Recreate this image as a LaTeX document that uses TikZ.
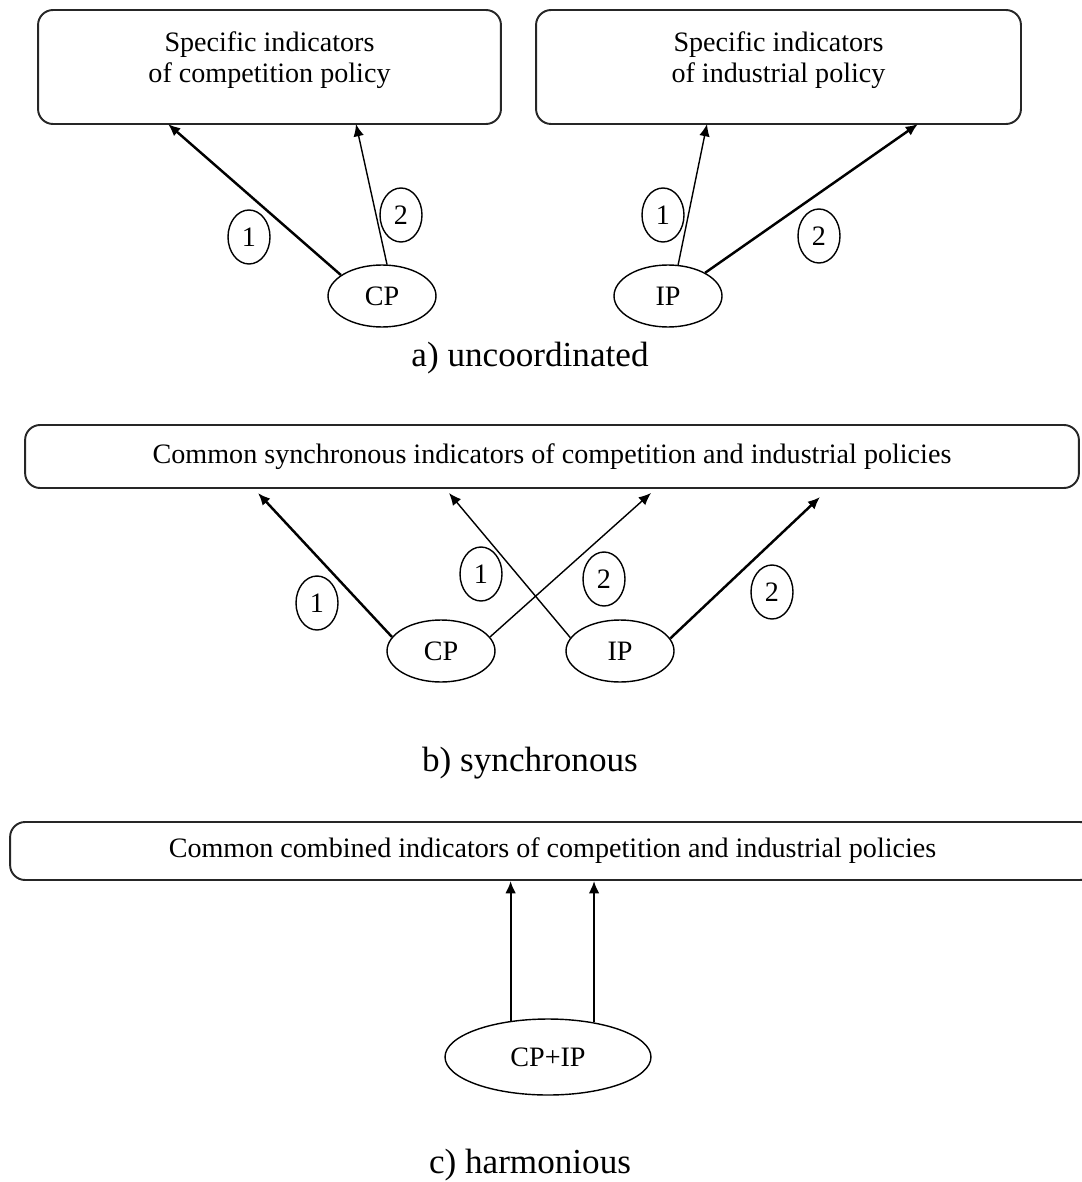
\documentclass[tikz,border=0pt]{standalone}
\usepackage{fontspec}
\setmainfont{Liberation Serif}
\usetikzlibrary{shapes.geometric,arrows.meta}

\begin{document}
\begin{tikzpicture}[x=0.02cm,y=-0.02cm]
            \tikzstyle{every node}+=[inner sep=0pt, font=\fontsize{16}{18}\selectfont]
            \tikzstyle{panel}=[draw=black!85, line width=1.1pt, rounded corners=0.3cm]
            \tikzstyle{pol}=[draw, ellipse, line width=0.8pt, minimum width=2.16cm, minimum height=1.24cm]
            \tikzstyle{num}=[draw, ellipse, line width=0.8pt, minimum width=0.84cm, minimum height=1.08cm]
            \tikzstyle{heavy}=[-{Latex[length=7pt,width=6pt]}, line width=1.4pt]
            \tikzstyle{light}=[-{Latex[length=7pt,width=6pt]}, line width=0.8pt]
            \tikzstyle{caption}=[font=\fontsize{20}{24}\selectfont]
            \useasboundingbox (0,0) rectangle (1081,1182);

            % a) uncoordinated
            \node [panel, minimum width=9.26cm, minimum height=2.28cm] (cpbox) at (269.5,67) {};
            \node [align=center] (cptext) at (269.5,60) {Specific indicators\\of competition policy};
            \node [panel, minimum width=9.7cm, minimum height=2.28cm] (ipbox) at (778.5,67) {};
            \node [align=center] (iptext) at (778.5,60) {Specific indicators\\of industrial policy};
            \coordinate (cpa1) at (168,124);
            \coordinate (cpa2) at (356,124);
            \coordinate (ipa1) at (707,124);
            \coordinate (ipa2) at (918,124);
            \node [pol] (cpa) at (382,296) {CP};
            \node [pol] (ipa) at (668,296) {IP};
            \draw [heavy] (cpa.153) -- (cpa1);
            \draw [light] (cpa.81) -- (cpa2);
            \draw [light] (ipa.72) -- (ipa1);
            \draw [heavy] (ipa.32) -- (ipa2);
            \node [num] (na1) at (249,237) {1};
            \node [num] (na2) at (401,215) {2};
            \node [num] (na3) at (663,215) {1};
            \node [num] (na4) at (819,236) {2};
            \node [caption] (capa) at (530,358) {a) uncoordinated};

            % b) synchronous
            \node [panel, minimum width=21.08cm, minimum height=1.26cm] (syncbox) at (552,456.5)
                  {Common synchronous indicators of competition and industrial policies};
            \coordinate (cpb1) at (258,493);
            \coordinate (cpb2) at (651,493);
            \coordinate (ipb1) at (449,493);
            \coordinate (ipb2) at (820,497);
            \node [pol] (cpb) at (441,651) {CP};
            \node [pol] (ipb) at (620,651) {IP};
            \draw [heavy] (cpb.164) -- (cpb1);
            \draw [light] (cpb.16) -- (cpb2);
            \draw [light] (ipb.165) -- (ipb1);
            \draw [heavy] (ipb.14) -- (ipb2);
            \node [num] (nb1) at (317,603) {1};
            \node [num] (nb2) at (481,574) {1};
            \node [num] (nb3) at (604,579) {2};
            \node [num] (nb4) at (772,592) {2};
            \node [caption] (capb) at (530,763) {b) synchronous};

            % c) harmonious
            \node [panel, minimum width=21.7cm, minimum height=1.16cm] (combbox) at (552.5,851)
                  {Common combined indicators of competition and industrial policies};
            \node [pol, minimum width=4.12cm, minimum height=1.52cm] (cpip) at (548,1057) {CP+IP};
            \draw [heavy, line width=1.1pt] (cpip.136) -- (cpip.136 |- combbox.south);
            \draw [heavy, line width=1.1pt] (cpip.37) -- (cpip.37 |- combbox.south);
            \node [caption] (capc) at (530,1165) {c) harmonious};
\end{tikzpicture}
\end{document}
